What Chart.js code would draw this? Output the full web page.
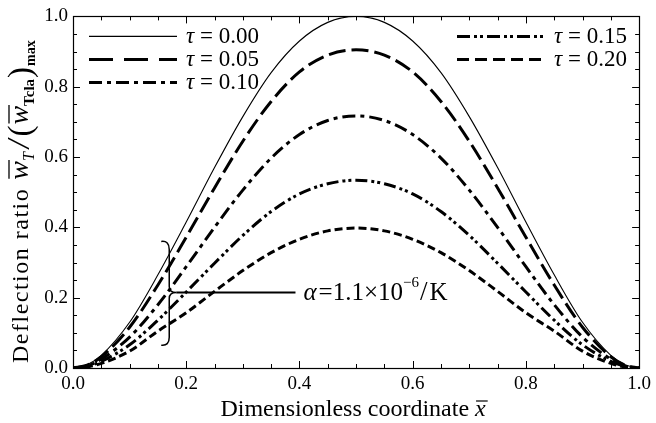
<!DOCTYPE html>
<html>
<head>
<meta charset="utf-8">
<script src="https://cdn.jsdelivr.net/npm/chart.js@4"></script>
<style>
html,body{margin:0;padding:0;background:#fff;overflow:hidden;}
canvas{display:block;}
</style>
</head>
<body>
<canvas id="c" width="656" height="423"></canvas>
<script>
// ---- data ----
const xs      = [0, 0.025, 0.05, 0.10, 0.15, 0.20, 0.25, 0.30, 0.35, 0.40, 0.45, 0.50, 0.55, 0.60, 0.65, 0.70, 0.75, 0.80, 0.85, 0.90, 0.95, 0.975, 1.0];
const tau000  = [0, 0.009, 0.036, 0.130, 0.265, 0.415, 0.570, 0.715, 0.840, 0.930, 0.983, 1.000, 0.983, 0.930, 0.840, 0.715, 0.570, 0.415, 0.265, 0.130, 0.036, 0.009, 0];
const tau005  = [0, 0.008, 0.032, 0.116, 0.236, 0.372, 0.512, 0.645, 0.758, 0.842, 0.890, 0.905, 0.890, 0.842, 0.758, 0.645, 0.512, 0.372, 0.236, 0.116, 0.032, 0.008, 0];
const tau010  = [0, 0.006, 0.025, 0.088, 0.180, 0.288, 0.400, 0.506, 0.597, 0.664, 0.704, 0.717, 0.704, 0.664, 0.597, 0.506, 0.400, 0.288, 0.180, 0.088, 0.025, 0.006, 0];
const tau015  = [0, 0.005, 0.019, 0.066, 0.136, 0.216, 0.298, 0.377, 0.445, 0.495, 0.524, 0.534, 0.524, 0.495, 0.445, 0.377, 0.298, 0.216, 0.136, 0.066, 0.019, 0.005, 0];
const tau020  = [0, 0.003, 0.013, 0.048, 0.105, 0.157, 0.218, 0.277, 0.328, 0.366, 0.390, 0.398, 0.390, 0.366, 0.328, 0.277, 0.218, 0.157, 0.105, 0.048, 0.013, 0.003, 0];
const tauLabels = ['0.00', '0.05', '0.10', '0.15', '0.20'];
const axisMin = 0, axisMax = 1, majorStep = 0.2, minorStep = 0.05;
// annotation (data space)
const braceX = 0.17, braceTop = 0.36, braceBottom = 0.065, braceMid = 0.215, annLineEnd = 0.393;
const alphaMantissa = '1.1', alphaExp = '\u22126', alphaUnit = 'K';

// ---- styles ----
const SERIF = '"Liberation Serif", "Times New Roman", serif';
const curveStyles = [
  {w: 1.1, dash: []},
  {w: 3,   dash: [17, 6]},
  {w: 3,   dash: [13, 5, 4, 5]},
  {w: 3,   dash: [12, 4, 3, 3, 3, 4]},
  {w: 3,   dash: [8, 4]}
];
const legendDash = [[], [24, 11], [13, 5, 4, 5], [13, 4, 3, 3, 3, 4], [12, 6]];
const seriesList = [tau000, tau005, tau010, tau015, tau020];

function pts(arr){ return xs.map((x, i) => ({x: x, y: arr[i]})); }

const datasets = seriesList.map((arr, i) => ({
  label: '\u03c4 = ' + tauLabels[i],
  data: pts(arr),
  borderColor: '#000',
  borderWidth: curveStyles[i].w,
  borderDash: curveStyles[i].dash,
  pointRadius: 0,
  fill: false,
  cubicInterpolationMode: 'monotone',
  borderCapStyle: 'butt'
}));

function drawTauText(ctx, x, y, lbl){
  ctx.textBaseline = 'middle';
  ctx.textAlign = 'left';
  ctx.font = 'italic 23px ' + SERIF;
  ctx.fillText('\u03c4', x, y);
  let w = ctx.measureText('\u03c4').width;
  ctx.font = '23px ' + SERIF;
  ctx.fillText(' = ' + lbl, x + w, y);
}

const decor = {
  id: 'decor',
  afterDraw(chart){
    const ctx = chart.ctx;
    const a = chart.chartArea;
    const sx = chart.scales.x, sy = chart.scales.y;
    ctx.save();
    ctx.strokeStyle = '#000';
    ctx.fillStyle = '#000';
    ctx.setLineDash([]);
    // frame
    ctx.lineWidth = 1.2;
    ctx.strokeRect(Math.round(a.left) + 0.5, Math.round(a.top) + 0.5, Math.round(a.right - a.left), Math.round(a.bottom - a.top));
    // inward ticks on all sides
    ctx.lineWidth = 1;
    const n = Math.round((axisMax - axisMin) / minorStep);
    const ratio = Math.round(majorStep / minorStep);
    for (let i = 0; i <= n; i++){
      const v = axisMin + i * minorStep;
      const len = (i % ratio === 0) ? 7 : 4;
      const px = Math.round(sx.getPixelForValue(v)) + 0.5;
      const py = Math.round(sy.getPixelForValue(v)) + 0.5;
      ctx.beginPath();
      ctx.moveTo(px, a.bottom); ctx.lineTo(px, a.bottom - len);
      ctx.moveTo(px, a.top); ctx.lineTo(px, a.top + len);
      ctx.moveTo(a.left, py); ctx.lineTo(a.left + len, py);
      ctx.moveTo(a.right, py); ctx.lineTo(a.right - len, py);
      ctx.stroke();
    }
    // legend
    const rowsY = [a.top + 20, a.top + 43, a.top + 66];
    const cols = [
      {x0: a.left + 16, x1: a.left + 104, tx: a.left + 113, items: [0, 1, 2]},
      {x0: a.left + 384, x1: a.left + 470, tx: a.left + 481, items: [3, 4]}
    ];
    cols.forEach(c => {
      c.items.forEach((k, r) => {
        const y = rowsY[r];
        ctx.lineWidth = k === 0 ? 1.1 : 3;
        ctx.setLineDash(legendDash[k]);
        ctx.beginPath();
        ctx.moveTo(c.x0, y); ctx.lineTo(c.x1, y);
        ctx.stroke();
        ctx.setLineDash([]);
        drawTauText(ctx, c.tx, y + 1, tauLabels[k]);
      });
    });
    // brace annotation
    const bx = sx.getPixelForValue(braceX);
    const bt = sy.getPixelForValue(braceTop);
    const bb = sy.getPixelForValue(braceBottom);
    const bm = sy.getPixelForValue(braceMid);
    const tip = 7;
    ctx.lineWidth = 1.5;
    ctx.beginPath();
    ctx.moveTo(bx - 8, bt);
    ctx.quadraticCurveTo(bx, bt - 1, bx, bt + 8);
    ctx.lineTo(bx, bm - 6);
    ctx.quadraticCurveTo(bx, bm, bx + tip, bm);
    ctx.quadraticCurveTo(bx, bm, bx, bm + 6);
    ctx.lineTo(bx, bb - 8);
    ctx.quadraticCurveTo(bx, bb + 1, bx - 8, bb);
    ctx.stroke();
    ctx.lineWidth = 2;
    const lineEnd = sx.getPixelForValue(annLineEnd);
    ctx.beginPath();
    ctx.moveTo(bx + tip, bm); ctx.lineTo(lineEnd, bm);
    ctx.stroke();
    // annotation text
    let tx = lineEnd + 8;
    const ty = bm + 1;
    ctx.textBaseline = 'middle';
    ctx.textAlign = 'left';
    ctx.font = 'italic 25px ' + SERIF;
    ctx.fillText('\u03b1', tx, ty); tx += ctx.measureText('\u03b1').width + 2;
    ctx.font = '25px ' + SERIF;
    const s1 = '=' + alphaMantissa + '\u00d710';
    ctx.fillText(s1, tx, ty); tx += ctx.measureText(s1).width;
    ctx.font = '15px ' + SERIF;
    ctx.fillText(alphaExp, tx, ty - 10); tx += ctx.measureText(alphaExp).width + 1;
    ctx.font = '27px ' + SERIF;
    ctx.fillText('/', tx, ty); tx += ctx.measureText('/').width + 2;
    ctx.font = '25px ' + SERIF;
    ctx.fillText(alphaUnit, tx, ty);

    // x-axis title
    ctx.textBaseline = 'alphabetic';
    ctx.font = '24px ' + SERIF;
    const xt1 = 'Dimensionless coordinate ';
    const w1 = ctx.measureText(xt1).width;
    ctx.font = 'italic 24px ' + SERIF;
    const wx = ctx.measureText('x').width;
    const cx = (a.left + a.right) / 2 - 3;
    let xs0 = cx - (w1 + wx) / 2;
    const base = a.bottom + 48;
    ctx.font = '24px ' + SERIF;
    ctx.fillText(xt1, xs0, base);
    ctx.font = 'italic 24px ' + SERIF;
    ctx.fillText('x', xs0 + w1, base);
    ctx.lineWidth = 1.2;
    ctx.beginPath();
    ctx.moveTo(xs0 + w1 + 1, base - 15); ctx.lineTo(xs0 + w1 + wx + 2, base - 15);
    ctx.stroke();

    // y-axis title (rotated)
    ctx.save();
    ctx.translate(28, a.bottom - 5);
    ctx.rotate(-Math.PI / 2);
    let c = 0;
    function put(text, font, dy, ls){
      ctx.font = font;
      ctx.letterSpacing = ls || '0px';
      ctx.fillText(text, c, dy || 0);
      const w = ctx.measureText(text).width;
      ctx.letterSpacing = '0px';
      c += w;
      return w;
    }
    function bar(x0, w, dy){
      ctx.lineWidth = 1.3;
      ctx.beginPath(); ctx.moveTo(x0, dy); ctx.lineTo(x0 + w, dy); ctx.stroke();
    }
    put('Deflection ratio', '24px ' + SERIF, 0, '1.5px');
    c += 8;
    let s = c; let ww = put('w', 'italic 28px ' + SERIF); bar(s + 1, ww, -19);
    put('T', 'italic 16px ' + SERIF, 6);
    c += 4;
    put('/', 'italic 31px ' + SERIF, 1);
    c += 3;
    put('(', '33px ' + SERIF, 3);
    c += 1;
    s = c; ww = put('w', 'italic 28px ' + SERIF); bar(s + 1, ww, -19);
    put('Tcla', 'bold 15px ' + SERIF, 6);
    c += 1;
    put(')', '33px ' + SERIF, 3);
    c += 1;
    put('max', 'bold 14px ' + SERIF, 7);
    ctx.restore();

    ctx.restore();
  }
};

new Chart(document.getElementById('c').getContext('2d'), {
  type: 'line',
  data: {datasets: datasets},
  options: {
    responsive: false,
    animation: false,
    events: [],
    layout: {padding: {left: 0, top: 13, right: 9, bottom: 0}},
    plugins: {legend: {display: false}, tooltip: {enabled: false}},
    scales: {
      x: {
        type: 'linear', min: axisMin, max: axisMax,
        grid: {display: false, drawTicks: false}, border: {display: false},
        ticks: {stepSize: majorStep, maxRotation: 0, padding: 5, color: '#000',
                font: {family: SERIF, size: 19}, callback: v => Number(v).toFixed(1)},
        afterFit: s => { s.height = 55; }
      },
      y: {
        type: 'linear', min: axisMin, max: axisMax,
        grid: {display: false, drawTicks: false}, border: {display: false},
        ticks: {stepSize: majorStep, padding: 5, color: '#000',
                font: {family: SERIF, size: 19}, callback: v => Number(v).toFixed(1)},
        afterFit: s => { s.width = 73; }
      }
    }
  },
  plugins: [decor]
});
</script>
</body>
</html>
